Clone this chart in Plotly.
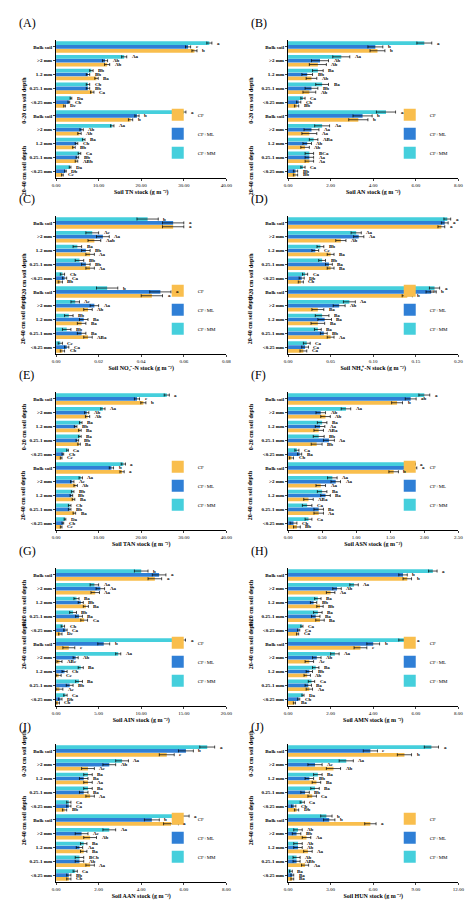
import plotly.graph_objects as go

cats = ["Bulk soil", ">2 mm", "1-2 mm", "0.25-1 mm", "<0.25 mm"] * 2
series_names = ["CF", "CF+ML", "CF+MM"]
colors = ["#F9BE4D", "#2F7FD6", "#45CFDC"]
panel_tags = ["(A)", "(B)", "(C)", "(D)", "(E)", "(F)", "(G)", "(H)", "(I)", "(J)"]
xtitles = ["Soil TN stock (g m \u207b\u00b2)", "Soil AN stock (g m \u207b\u00b2)",
           "Soil NO\u2083\u207b-N stock (g m \u207b\u00b2)", "Soil NH\u2084\u207a-N stock (g m \u207b\u00b2)",
           "Soil TAN stock (g m \u207b\u00b2)", "Soil ASN stock (g m \u207b\u00b2)",
           "Soil AIN stock (g m \u207b\u00b2)", "Soil AMN stock (g m \u207b\u00b2)",
           "Soil AAN stock (g m \u207b\u00b2)", "Soil HUN stock (g m \u207b\u00b2)"]
xmax = [40, 8, 0.08, 0.20, 40, 2.5, 20, 8, 8, 12]
xdtick = [10, 2, 0.02, 0.05, 10, 0.5, 5, 2, 2, 3]

# values: order 0-20 (Bulk, >2, 1-2, 0.25-1, <0.25) then 20-40
TN_CF = [32.5, 12, 9.5, 8.5, 2, 17.5, 5.5, 4.2, 4.8, 1.5]
TN_ML = [31, 11.5, 7.5, 7.5, 3, 19, 6, 4.8, 5, 2.2]
TN_MM = [36, 16, 8.3, 7.5, 3.5, 30, 13.2, 6.5, 5.5, 3.3]
AN_CF = [4.2, 1.4, 1.1, 1.0, 0.4, 3.3, 1.0, 0.8, 1.0, 0.35]
AN_ML = [4.1, 1.5, 0.9, 1.1, 0.5, 3.5, 1.1, 0.9, 1.0, 0.35]
AN_MM = [6.4, 2.5, 1.4, 1.6, 0.7, 4.6, 1.6, 1.2, 1.0, 0.7]
NO3_CF = [0.055, 0.018, 0.016, 0.016, 0.002, 0.045, 0.015, 0.012, 0.015, 0.003]
NO3_ML = [0.055, 0.022, 0.014, 0.014, 0.004, 0.049, 0.018, 0.013, 0.012, 0.005]
NO3_MM = [0.043, 0.017, 0.010, 0.011, 0.003, 0.024, 0.009, 0.006, 0.005, 0.002]
NH4_CF = [0.180, 0.062, 0.050, 0.050, 0.015, 0.140, 0.035, 0.035, 0.050, 0.018]
NH4_ML = [0.184, 0.083, 0.032, 0.048, 0.016, 0.168, 0.060, 0.043, 0.042, 0.020]
NH4_MM = [0.187, 0.080, 0.038, 0.040, 0.020, 0.172, 0.072, 0.040, 0.035, 0.022]
TAN_CF = [20.5, 7.4, 5.6, 5.4, 1.2, 15.5, 4.6, 4.1, 4.3, 1.2]
TAN_ML = [19, 7.2, 4.6, 5.0, 1.6, 13, 3.8, 3.6, 3.2, 1.6]
TAN_MM = [26, 11, 5.8, 5.6, 2.7, 15.8, 5.8, 3.9, 3.2, 2.1]
ASN_CF = [1.6, 0.55, 0.45, 0.42, 0.05, 1.55, 0.48, 0.30, 0.45, 0.13]
ASN_ML = [1.8, 0.48, 0.47, 0.60, 0.17, 1.82, 0.70, 0.55, 0.45, 0.08]
ASN_MM = [2.0, 0.85, 0.50, 0.45, 0.13, 1.80, 0.65, 0.50, 0.28, 0.30]
AIN_CF = [11.6, 4.6, 3.5, 3.3, 0.5, 1.5, 0.4, 0.3, 0.4, 0.2]
AIN_ML = [12.1, 5.2, 2.9, 2.7, 1.1, 5.6, 2.3, 1.0, 1.6, 0.5]
AIN_MM = [10, 4.5, 2.4, 2.0, 0.8, 14.5, 7.3, 2.9, 2.7, 1.1]
AMN_CF = [5.6, 2.0, 1.5, 1.5, 0.45, 3.4, 1.0, 0.9, 1.0, 0.3]
AMN_ML = [5.4, 2.3, 1.2, 1.3, 0.5, 4.0, 1.35, 1.0, 0.95, 0.5]
AMN_MM = [6.8, 3.1, 1.4, 1.4, 0.65, 5.5, 2.2, 1.3, 1.1, 0.7]
AAN_CF = [5.2, 1.5, 1.5, 1.6, 0.4, 5.4, 1.6, 1.3, 1.6, 0.6]
AAN_ML = [6.1, 2.5, 1.3, 1.3, 0.6, 4.5, 1.2, 1.1, 1.1, 0.6]
AAN_MM = [7.1, 3.1, 1.5, 1.5, 0.6, 5.9, 2.5, 1.3, 1.1, 0.9]
HUN_CF = [8.2, 3.2, 2.0, 1.7, 0.6, 5.8, 1.3, 1.4, 1.2, 0.3]
HUN_ML = [5.8, 1.9, 1.5, 1.2, 0.4, 2.9, 0.6, 0.7, 0.6, 0.3]
HUN_MM = [10.1, 4.1, 2.1, 1.9, 1.0, 2.7, 0.7, 0.7, 0.6, 0.2]

# error bars (SE), read approximately
TN_E = [0.6, 0.6, 0.4, 0.4, 0.2, 0.5, 0.4, 0.3, 0.3, 0.2]
AN_E = [0.35, 0.4, 0.25, 0.3, 0.1, 0.45, 0.35, 0.2, 0.2, 0.1]
NO3_E = [0.005, 0.003, 0.002, 0.002, 0.001, 0.005, 0.002, 0.002, 0.002, 0.001]
NH4_E = [0.004, 0.006, 0.004, 0.004, 0.003, 0.006, 0.007, 0.008, 0.004, 0.004]
TAN_E = [0.6, 0.5, 0.3, 0.3, 0.2, 0.5, 0.4, 0.3, 0.3, 0.2]
ASN_E = [0.08, 0.07, 0.07, 0.08, 0.03, 0.07, 0.07, 0.07, 0.07, 0.05]
AIN_E = [0.8, 0.5, 0.3, 0.4, 0.2, 0.7, 0.3, 0.3, 0.4, 0.2]
AMN_E = [0.2, 0.2, 0.15, 0.2, 0.05, 0.3, 0.2, 0.15, 0.15, 0.05]
AAN_E = [0.35, 0.3, 0.2, 0.2, 0.1, 0.35, 0.3, 0.15, 0.2, 0.1]
HUN_E = [0.5, 0.5, 0.3, 0.3, 0.15, 0.4, 0.3, 0.3, 0.25, 0.1]

TN_L = [["b","Ab","Ba","Ca","Dc","b","Ab","Bb","ABb","Cc"],["c","Ab","Bb","Bb","Cb","b","Ab","Cb","Bb","Db"],["a","Aa","Bb","Cb","Da","a","Aa","Ba","Ca","Da"]]
AN_L = [["b","Ab","Ab","Ab","Bb","b","Aa","Ab","Aa","Bb"],["b","Ab","Bb","Bb","Cb","b","Aa","Ab","Aa","Bb"],["a","Aa","Ba","Ba","Ca","a","Aa","ABa","BCa","Ca"]]
NO3_L = [["a","Aab","Aa","Aa","Bb","a","Ab","Ba","ABa","Cb"],["a","Aa","Bb","Bb","Ca","a","Aa","Ba","Ba","Ca"],["b","Ac","Ba","Bb","Cb","b","Ac","Bb","Bb","Cc"]]
NH4_L = [["a","Ab","Ba","Ba","Cb","b","Ba","Ba","Aa","Ca"],["a","Aa","Cc","Ba","Db","b","Ab","Ba","Bb","Ca"],["a","Aa","Bb","Bb","Ca","a","Aa","Ba","Ba","Ca"]]
TAN_L = [["b","Ab","Ba","Ba","Cc","a","Ab","Ba","Ba","Cc"],["c","Ab","Bb","Bb","Cb","b","Ac","Bb","Bb","Cb"],["a","Aa","Ba","Ba","Ca","a","Aa","Bb","Cb","Da"]]
ASN_L = [["b","Ab","ABa","Bb","Cb","b","Aa","ABa","Aa","Bb"],["ab","Ab","Aa","Aa","Ba","a","Aa","Ba","Ba","Cb"],["a","Aa","Ba","Bb","Ca","a","Aa","Ba","Ca","Ca"]]
AIN_L = [["a","Aa","Ba","Ca","Dc","c","ABc","Cc","Ac","Cb"],["a","Aa","Bb","Ba","Ca","b","Ab","Cb","Bb","Db"],["b","Aa","Ba","Bb","Cb","a","Aa","Ba","Ba","Ca"]]
AMN_L = [["b","Aa","Bb","Ba","Ca","c","Ac","Ab","Aa","Ba"],["b","Ab","Bb","Ba","Ca","b","Ab","Bb","Ba","Cb"],["a","Aa","Ba","Ba","Ca","a","Aa","Ba","Ca","Da"]]
AAN_L = [["c","Ac","Aa","Aa","Bb","a","Ab","Ba","Aa","Cb"],["b","Ab","Ba","Ba","Ca","b","Ac","Aa","Ab","Bb"],["a","Aa","Ba","Ba","Ca","a","Aa","Ba","BCb","Ca"]]
HUN_L = [["b","Ab","Ba","Ca","Db","a","Aa","Aa","Aa","Ba"],["c","Ac","Bb","Bb","Cb","b","Bb","Ab","ABb","Ba"],["a","Aa","Ba","Ba","Ca","b","Ab","Ab","Ab","Ba"]]

panels = [
    ([TN_CF, TN_ML, TN_MM], TN_E, TN_L), ([AN_CF, AN_ML, AN_MM], AN_E, AN_L),
    ([NO3_CF, NO3_ML, NO3_MM], NO3_E, NO3_L), ([NH4_CF, NH4_ML, NH4_MM], NH4_E, NH4_L),
    ([TAN_CF, TAN_ML, TAN_MM], TAN_E, TAN_L), ([ASN_CF, ASN_ML, ASN_MM], ASN_E, ASN_L),
    ([AIN_CF, AIN_ML, AIN_MM], AIN_E, AIN_L), ([AMN_CF, AMN_ML, AMN_MM], AMN_E, AMN_L),
    ([AAN_CF, AAN_ML, AAN_MM], AAN_E, AAN_L), ([HUN_CF, HUN_ML, HUN_MM], HUN_E, HUN_L),
]

W, H = 474, 904
FONT = "Liberation Serif"
ypos = [9.5, 8.5, 7.5, 6.5, 5.5, 4.5, 3.5, 2.5, 1.5, 0.5]
offs = [-0.28, 0, 0.28]
STEP = 176

fig = go.Figure()
layout = dict(width=W, height=H, margin=dict(l=0, r=0, t=0, b=0),
              paper_bgcolor="white", plot_bgcolor="white", barmode="overlay",
              showlegend=True, font=dict(family=FONT, size=5, color="black"))
annotations = []

for i, (vals, err, letters) in enumerate(panels):
    r, c = divmod(i, 2)
    n = i + 1
    xa = "x" if n == 1 else f"x{n}"
    ya = "y" if n == 1 else f"y{n}"
    lg = "legend" if n == 1 else f"legend{n}"
    x0 = (45 if c == 0 else 282) / W
    x1 = (219 if c == 0 else 456) / W
    top = 32 + STEP * r
    bot = 170 + STEP * r
    y0 = 1 - bot / H
    y1 = 1 - top / H
    for s in range(3):
        yy = [p + offs[s] for p in ypos]
        fig.add_trace(go.Bar(
            y=yy, x=vals[s], orientation="h", width=0.27, name=series_names[s],
            marker=dict(color=colors[s], line=dict(width=0)),
            error_x=dict(type="data", array=err, visible=True, thickness=0.7, width=1.5, color="black"),
            xaxis=xa, yaxis=ya, showlegend=False))
        fig.add_trace(go.Scatter(
            x=[None], y=[None], mode="markers", name=series_names[s],
            marker=dict(symbol="square", size=9, color=colors[s]),
            xaxis=xa, yaxis=ya, legend=lg, showlegend=True))
        for k in range(10):
            annotations.append(dict(x=vals[s][k] + err[k], y=yy[k], xref=xa, yref=ya,
                                    text="<b>" + letters[s][k] + "</b>", showarrow=False,
                                    xanchor="left", xshift=3, font=dict(size=5, family=FONT)))
    axx = dict(domain=[x0, x1], range=[0, xmax[i]], dtick=xdtick[i], tickformat=".2f",
               anchor=ya, showline=True, linecolor="black", linewidth=1, ticks="outside",
               ticklen=2, tickfont=dict(size=5, family=FONT), showgrid=False, zeroline=False,
               title=dict(text="<b>" + xtitles[i] + "</b>", font=dict(size=6, family=FONT), standoff=2))
    axy = dict(domain=[y0, y1], range=[0, 10], anchor=xa, tickvals=ypos, ticktext=["<b>" + t + "</b>" for t in cats],
               showline=True, linecolor="black", linewidth=1, ticks="outside", ticklen=2,
               tickfont=dict(size=5, family=FONT), showgrid=False, zeroline=False)
    layout["xaxis" if n == 1 else f"xaxis{n}"] = axx
    layout["yaxis" if n == 1 else f"yaxis{n}"] = axy
    layout[lg] = dict(x=x1 - 0.01, y=y0 + 0.012, xanchor="right", yanchor="bottom",
                      traceorder="normal", font=dict(size=5, family=FONT), bgcolor="rgba(0,0,0,0)",
                      itemwidth=30, tracegroupgap=0, itemsizing="constant")
    annotations.append(dict(x=(x0 - 40 / W), y=1 - (6 + STEP * r) / H,
                            xref="paper", yref="paper", text=panel_tags[i], showarrow=False,
                            xanchor="left", yanchor="top", font=dict(size=12, family=FONT)))
    for d, txt in enumerate(["0-20 cm soil depth", "20-40 cm soil depth"]):
        ym = y1 - (y1 - y0) * (0.25 + 0.5 * d)
        annotations.append(dict(x=x0 - 38 / W, y=ym, xref="paper", yref="paper",
                                text="<b>" + txt + "</b>", textangle=-90, showarrow=False,
                                font=dict(size=6, family=FONT)))

layout["annotations"] = annotations
fig.update_layout(**layout)
fig.write_html("out.html")
